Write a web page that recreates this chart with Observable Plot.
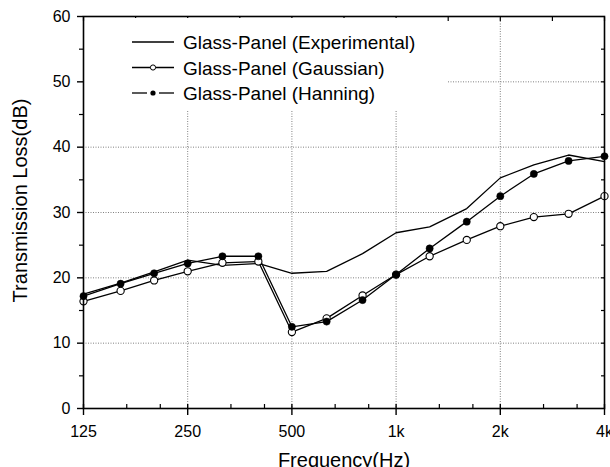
<!DOCTYPE html>
<html>
<head>
<meta charset="utf-8">
<script src="https://cdn.jsdelivr.net/npm/d3@7"></script>
<script src="https://cdn.jsdelivr.net/npm/@observablehq/plot@0.6"></script>
<style>
  html, body { margin: 0; padding: 0; background: #fff; }
  #chart svg { display: block; }
</style>
</head>
<body>
<div id="chart"></div>
<script>
// One-third octave band centre frequencies (Hz)
const frequencies = [125, 160, 200, 250, 315, 400, 500, 630, 800, 1000, 1250, 1600, 2000, 2500, 3150, 4000];

// Transmission loss (dB) per band
const experimental = [17.5, 19.2, 20.9, 22.7, 21.9, 22.2, 20.7, 21.0, 23.7, 26.9, 27.8, 30.6, 35.3, 37.3, 38.8, 37.8];
const gaussian     = [16.4, 18.0, 19.6, 21.0, 22.3, 22.5, 11.7, 13.8, 17.3, 20.5, 23.3, 25.8, 27.9, 29.3, 29.8, 32.5];
const hanning      = [17.2, 19.1, 20.7, 22.2, 23.3, 23.3, 12.5, 13.3, 16.6, 20.5, 24.5, 28.6, 32.5, 35.9, 37.9, 38.6];

const seriesNames = ["Glass-Panel (Experimental)", "Glass-Panel (Gaussian)", "Glass-Panel (Hanning)"];

// Axis ticks
const xTickValues = [125, 250, 500, 1000, 2000, 4000];
const xTickLabels = ["125", "250", "500", "1k", "2k", "4k"];
const yTickValues = [0, 10, 20, 30, 40, 50, 60];
const xGridValues = [250, 500, 1000, 2000];
const yGridValues = [10, 20, 30, 40, 50];

const toRows = (values, series) => frequencies.map((f, i) => ({f, tl: values[i], series}));
const expRows = toRows(experimental, seriesNames[0]);
const gauRows = toRows(gaussian, seriesNames[1]);
const hanRows = toRows(hanning, seriesNames[2]);

// Minor ticks: two linear subdivisions inside each octave on the bottom axis,
// half-octave ticks along the top edge, 5 dB steps on the sides.
const xMinor = xTickValues.slice(0, -1).flatMap(v => [v * 4 / 3, v * 5 / 3]);
const xTop = d3.range(0, 11).map(k => 125 * 2 ** (k / 2));
const yMinor = d3.range(5, 60, 10);
const yRight = d3.range(5, 60, 5);

const labelFor = new Map(xTickValues.map((v, i) => [v, xTickLabels[i]]));
const tickFont = {fontFamily: '"Liberation Sans", Arial, sans-serif', fontSize: 16};
const titleFont = {fontFamily: '"Liberation Sans", Arial, sans-serif', fontSize: 20, fill: "#000"};
const gridStyle = {stroke: "#808080", strokeOpacity: 1, strokeWidth: 1, strokeDasharray: "1,1.5"};
const noText = () => "";

const chart = Plot.plot({
  width: 610,
  height: 467,
  marginTop: 16,
  marginRight: 6,
  marginBottom: 59,
  marginLeft: 83,
  x: {type: "log", domain: [125, 4000]},
  y: {domain: [0, 60]},
  style: {background: "#fff", color: "#000", fontFamily: '"Liberation Sans", Arial, sans-serif'},
  marks: [
    Plot.gridX(xGridValues, gridStyle),
    Plot.gridY(yGridValues, gridStyle),

    Plot.line(expRows, {x: "f", y: "tl", stroke: "#000", strokeWidth: 1.3}),
    Plot.line(gauRows, {x: "f", y: "tl", stroke: "#000", strokeWidth: 1.3}),
    Plot.line(hanRows, {x: "f", y: "tl", stroke: "#000", strokeWidth: 1.3}),
    Plot.dot(gauRows, {x: "f", y: "tl", r: 3.6, fill: "#fff", stroke: "#000", strokeWidth: 1.1}),
    Plot.dot(hanRows, {x: "f", y: "tl", r: 3.6, fill: "#000", stroke: "#000", strokeWidth: 0.5}),

    // bottom axis: labelled octave ticks crossing the axis line, minor ticks inside
    Plot.axisX(xTickValues, {anchor: "bottom", tickSize: 7, tickPadding: 10, strokeWidth: 1.4,
      tickFormat: d => labelFor.get(d), label: null, ...tickFont}),
    Plot.axisX(xTickValues, {anchor: "bottom", tickSize: -4, strokeWidth: 1.4, tickFormat: noText, label: null}),
    Plot.axisX(xMinor, {anchor: "bottom", tickSize: -4, strokeWidth: 1.2, tickFormat: noText, label: null}),
    Plot.axisX(xTop, {anchor: "top", tickSize: -4, strokeWidth: 1.2, tickFormat: noText, label: null}),

    // left axis with outward ticks, right edge with inward ticks
    Plot.axisY(yTickValues, {anchor: "left", tickSize: 6, tickPadding: 7, strokeWidth: 1.4, label: null, ...tickFont}),
    Plot.axisY(yMinor, {anchor: "left", tickSize: 4, strokeWidth: 1.2, tickFormat: noText, label: null}),
    Plot.axisY(yRight, {anchor: "right", tickSize: -4, strokeWidth: 1.2, tickFormat: noText, label: null}),

    Plot.frame({stroke: "#000", strokeWidth: 1.6}),

    Plot.text(["Frequency(Hz)"], {frameAnchor: "bottom", dy: 58, lineAnchor: "bottom", textAnchor: "middle", ...titleFont}),
    Plot.text(["Transmission Loss(dB)"], {frameAnchor: "left", dx: -57, dy: -12, rotate: -90,
      lineAnchor: "bottom", textAnchor: "middle", ...titleFont})
  ]
});

// Legend box in the upper left of the plotting area
const svg = d3.select(chart);
const legend = svg.append("g").attr("class", "legend").attr("text-anchor", "start");
legend.append("rect")
  .attr("x", 85).attr("y", 18).attr("width", 362).attr("height", 92)
  .attr("fill", "#fff");

const rowY = [42, 67.5, 93];
const keyX0 = 132, keyX1 = 174, keyMid = 153;

// Experimental: plain line
legend.append("line").attr("x1", keyX0).attr("x2", keyX1).attr("y1", rowY[0]).attr("y2", rowY[0])
  .attr("stroke", "#000").attr("stroke-width", 1.3);
// Gaussian: line with open circle
legend.append("line").attr("x1", keyX0).attr("x2", keyX1).attr("y1", rowY[1]).attr("y2", rowY[1])
  .attr("stroke", "#000").attr("stroke-width", 1.3);
legend.append("circle").attr("cx", keyMid).attr("cy", rowY[1]).attr("r", 2.6)
  .attr("fill", "#fff").attr("stroke", "#000").attr("stroke-width", 1);
// Hanning: broken line around a filled dot
legend.append("line").attr("x1", keyX0).attr("x2", keyMid - 6).attr("y1", rowY[2]).attr("y2", rowY[2])
  .attr("stroke", "#000").attr("stroke-width", 1.3);
legend.append("line").attr("x1", keyMid + 6).attr("x2", keyX1).attr("y1", rowY[2]).attr("y2", rowY[2])
  .attr("stroke", "#000").attr("stroke-width", 1.3);
legend.append("circle").attr("cx", keyMid).attr("cy", rowY[2]).attr("r", 2.6).attr("fill", "#000");

legend.selectAll("text.entry")
  .data(seriesNames)
  .join("text")
  .attr("class", "entry")
  .attr("x", 183)
  .attr("y", (d, i) => rowY[i] + 7)
  .attr("text-anchor", "start")
  .attr("font-family", '"Liberation Sans", Arial, sans-serif')
  .attr("font-size", 19)
  .attr("fill", "#000")
  .text(d => d);

document.getElementById("chart").append(chart);
</script>
</body>
</html>
